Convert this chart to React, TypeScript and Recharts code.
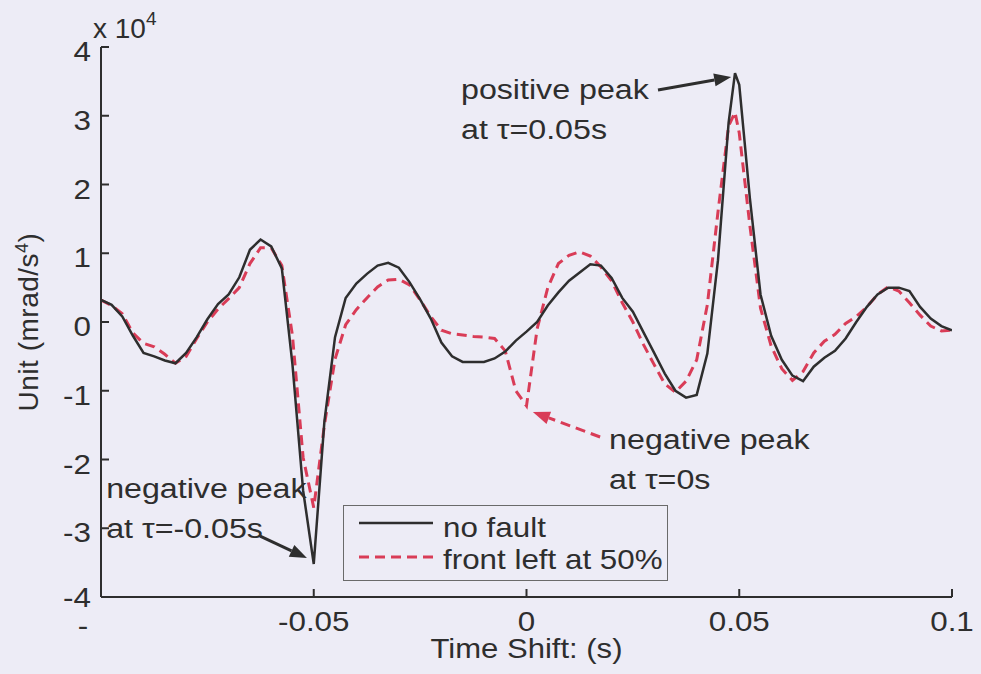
import React from "react";
import { LineChart, Line, XAxis, YAxis, ReferenceLine, Legend } from "recharts";

// time shift (s) and the two cross-correlation traces (units of 1e4 mrad/s^4)
const TIME_SHIFT = [
  -0.1, -0.0975, -0.095, -0.0925, -0.09, -0.0875, -0.085, -0.0825, -0.08, -0.0775,
  -0.075, -0.0725, -0.07, -0.0675, -0.065, -0.0625, -0.06, -0.0575, -0.055, -0.0525,
  -0.05, -0.0475, -0.045, -0.0425, -0.04, -0.0375, -0.035, -0.0325, -0.03, -0.0275,
  -0.025, -0.0225, -0.02, -0.0175, -0.015, -0.0125, -0.01, -0.0075, -0.005, -0.0025,
  0, 0.0025, 0.005, 0.0075, 0.01, 0.0125, 0.015, 0.0175, 0.02, 0.0225,
  0.025, 0.0275, 0.03, 0.0325, 0.035, 0.0375, 0.04, 0.0425, 0.045, 0.0475,
  0.049, 0.05, 0.0525, 0.055, 0.0575, 0.06, 0.0625, 0.065, 0.0675, 0.07,
  0.0725, 0.075, 0.0775, 0.08, 0.0825, 0.085, 0.0875, 0.09, 0.0925, 0.095,
  0.0975, 0.1,
];

const NO_FAULT = [
  0.32, 0.25, 0.08, -0.2, -0.45, -0.5, -0.56, -0.6, -0.45, -0.22,
  0.04, 0.26, 0.4, 0.65, 1.05, 1.2, 1.1, 0.78, -0.62, -2.45,
  -3.52, -1.45, -0.22, 0.35, 0.56, 0.7, 0.82, 0.86, 0.79, 0.58,
  0.33, 0.05, -0.3, -0.5, -0.58, -0.58, -0.58, -0.53, -0.43, -0.27,
  -0.14, 0.0, 0.24, 0.43, 0.6, 0.72, 0.84, 0.82, 0.64, 0.35,
  0.15, -0.15, -0.45, -0.75, -1.0, -1.1, -1.06, -0.46, 0.9, 2.9,
  3.62, 3.45, 1.8, 0.4, -0.2, -0.55, -0.78, -0.86, -0.65, -0.52,
  -0.42, -0.24, 0.0, 0.22, 0.4, 0.5, 0.5, 0.45, 0.22, 0.05,
  -0.06, -0.12,
];

const FRONT_LEFT_50 = [
  0.32, 0.24, 0.12, -0.16, -0.31, -0.36, -0.47, -0.6, -0.5, -0.24,
  0.0, 0.19, 0.34, 0.5, 0.85, 1.08, 1.08, 0.82, -0.2, -1.97,
  -2.7, -1.5, -0.54, -0.04, 0.18, 0.35, 0.51, 0.61, 0.62, 0.54,
  0.32, 0.08, -0.12, -0.17, -0.19, -0.21, -0.22, -0.24, -0.42, -1.0,
  -1.22, -0.1, 0.5, 0.85, 0.97, 1.02, 0.96, 0.8, 0.6, 0.28,
  0.0, -0.33, -0.62, -0.9, -1.02, -0.86, -0.55, 0.25, 1.6, 2.85,
  3.05, 2.75, 1.4, 0.2, -0.35, -0.68, -0.85, -0.72, -0.45, -0.28,
  -0.18, -0.02, 0.08, 0.22, 0.4, 0.51, 0.45, 0.28, 0.1, -0.06,
  -0.13, -0.12,
];

const X_TICKS = [-0.1, -0.05, 0, 0.05, 0.1];
const X_TICK_LABELS = ["-", "-0.05", "0", "0.05", "0.1"];
const Y_TICKS = [-4, -3, -2, -1, 0, 1, 2, 3, 4];
const Y_TICK_LABELS = ["-4", "-3", "-2", "-1", "0", "1", "2", "3", "4"];

const SERIES_NAMES = ["no fault", "front left at 50%"];

// annotation arrows: [tail, tip] in data units
const POS_PEAK_ARROW = [{ x: 0.0309, y: 3.375 }, { x: 0.0481, y: 3.564 }];
const NEG_PEAK_LEFT_ARROW = [{ x: -0.0626, y: -3.113 }, { x: -0.0516, y: -3.433 }];
const NEG_PEAK_ZERO_ARROW = [{ x: 0.0173, y: -1.673 }, { x: 0.0015, y: -1.309 }];

const FONT = '"Liberation Sans", Arial, Helvetica, sans-serif';
const INK = "#2e2e2e";
const BG = "#edecf6";
const RED = "#d93c57";

const data = TIME_SHIFT.map((t, i) => ({
  t,
  noFault: NO_FAULT[i],
  frontLeft: FRONT_LEFT_50[i],
}));

// text that is a little wider than the font's normal glyphs
function Txt({ x, y, sx = 1.12, size = 28, anchor = "start", children }: any) {
  return (
    <text
      transform={`translate(${x} ${y}) scale(${sx} 1)`}
      x={0}
      y={0}
      textAnchor={anchor}
      fontSize={size}
      fontFamily={FONT}
      fill={INK}
    >
      {children}
    </text>
  );
}

function BottomTick({ x, y, payload }: any) {
  const idx = X_TICKS.indexOf(payload.value);
  const label = X_TICK_LABELS[idx];
  const isCut = label === "-";
  return (
    <g>
      <line x1={x} y1={y} x2={x} y2={y - 8} stroke={INK} strokeWidth={2} />
      <Txt x={isCut ? x - 18 : x} y={isCut ? y + 38 : y + 34} anchor="middle">
        {label}
      </Txt>
    </g>
  );
}

function LeftTick({ x, y, payload }: any) {
  const idx = Y_TICKS.indexOf(payload.value);
  const dy = payload.value === -4 ? 10 : 14;
  return (
    <g>
      <line x1={x} y1={y} x2={x + 8} y2={y} stroke={INK} strokeWidth={2} />
      <Txt x={x - 10} y={y + dy} anchor="end">
        {Y_TICK_LABELS[idx]}
      </Txt>
    </g>
  );
}

function TopTick({ x, y }: any) {
  return <line x1={x} y1={y} x2={x} y2={y + 8} stroke={INK} strokeWidth={2} />;
}

function RightTick({ x, y }: any) {
  return <line x1={x} y1={y} x2={x - 8} y2={y} stroke={INK} strokeWidth={2} />;
}

function YTitle({ viewBox }: any) {
  const cy = viewBox ? viewBox.y + viewBox.height / 2 : 322;
  return (
    <g fontFamily={FONT} fill={INK}>
      <text
        x={38}
        y={cy}
        transform={`rotate(-90 38 ${cy})`}
        textAnchor="middle"
        fontSize={28}
        letterSpacing={0.5}
      >
        Unit (mrad/s
        <tspan dy={-10} fontSize={18}>4</tspan>
        <tspan dy={10}>)</tspan>
      </text>
      <text x={93} y={38} fontSize={28}>
        x 10
        <tspan dy={-13} fontSize={19}>4</tspan>
      </text>
    </g>
  );
}

function XTitle({ viewBox }: any) {
  const cx = viewBox ? viewBox.x + viewBox.width / 2 : 526;
  const y = viewBox ? viewBox.y + 61 : 658;
  return (
    <Txt x={cx} y={y} anchor="middle" sx={1.15} size={27}>
      Time Shift: (s)
    </Txt>
  );
}

// arrow with a filled head plus a two-line note placed relative to the tail
function arrowShape(lines: string[], dx: number, dy: number, color: string, dashed: boolean) {
  return (p: any) => {
    const { x1, y1, x2, y2 } = p;
    const a = Math.atan2(y2 - y1, x2 - x1);
    const len = 17;
    const half = 6.5;
    const bx = x2 - len * Math.cos(a);
    const by = y2 - len * Math.sin(a);
    const nx = -Math.sin(a) * half;
    const ny = Math.cos(a) * half;
    return (
      <g>
        <line
          x1={x1}
          y1={y1}
          x2={bx}
          y2={by}
          stroke={color}
          strokeWidth={3}
          strokeDasharray={dashed ? "10 6" : undefined}
        />
        <polygon points={`${x2},${y2} ${bx + nx},${by + ny} ${bx - nx},${by - ny}`} fill={color} />
        {lines.map((t, i) => (
          <Txt key={i} x={x1 + dx} y={y1 + dy + i * 40} sx={1.15}>
            {t}
          </Txt>
        ))}
      </g>
    );
  };
}

function LegendBox() {
  return (
    <svg width={326} height={77} style={{ display: "block" }}>
      <rect x={0.5} y={0.5} width={324} height={75} fill="none" stroke="#6a6a6a" strokeWidth={1} />
      <line x1={16} y1={18} x2={90} y2={18} stroke={INK} strokeWidth={2.5} />
      <Txt x={100} y={32} sx={1.12}>{SERIES_NAMES[0]}</Txt>
      <line x1={16} y1={52} x2={90} y2={52} stroke={RED} strokeWidth={3} strokeDasharray="10 6" />
      <Txt x={100} y={64} sx={1.12}>{SERIES_NAMES[1]}</Txt>
    </svg>
  );
}

export default function App() {
  const axisLine = { stroke: INK, strokeWidth: 2 };
  return (
    <div
      style={{
        position: "absolute",
        left: 0,
        top: 0,
        width: 981,
        height: 674,
        background: BG,
        overflow: "hidden",
      }}
    >
      <LineChart width={981} height={674} data={data} margin={{ top: 47, right: 29, left: 0, bottom: 0 }}>
        <XAxis
          dataKey="t"
          type="number"
          domain={[-0.1, 0.1]}
          ticks={X_TICKS}
          allowDataOverflow
          height={77}
          axisLine={axisLine}
          tickLine={false}
          tickSize={0}
          tickMargin={0}
          tick={<BottomTick />}
          interval={0}
          label={<XTitle />}
        />
        <XAxis
          xAxisId="top"
          orientation="top"
          dataKey="t"
          type="number"
          domain={[-0.1, 0.1]}
          ticks={X_TICKS}
          allowDataOverflow
          height={0}
          axisLine={axisLine}
          tickLine={false}
          tickSize={0}
          tickMargin={0}
          tick={<TopTick />}
          interval={0}
        />
        <YAxis
          type="number"
          domain={[-4, 4]}
          ticks={Y_TICKS}
          allowDataOverflow
          width={101}
          axisLine={axisLine}
          tickLine={false}
          tickSize={0}
          tickMargin={0}
          tick={<LeftTick />}
          interval={0}
          label={<YTitle />}
        />
        <YAxis
          yAxisId="right"
          orientation="right"
          type="number"
          domain={[-4, 4]}
          ticks={Y_TICKS}
          allowDataOverflow
          width={0}
          axisLine={axisLine}
          tickLine={false}
          tickSize={0}
          tickMargin={0}
          tick={<RightTick />}
          interval={0}
        />
        <Line
          type="linear"
          dataKey="frontLeft"
          name={SERIES_NAMES[1]}
          stroke={RED}
          strokeWidth={3}
          strokeDasharray="10 6"
          dot={false}
          activeDot={false}
          isAnimationActive={false}
        />
        <Line
          type="linear"
          dataKey="noFault"
          name={SERIES_NAMES[0]}
          stroke={INK}
          strokeWidth={2.5}
          dot={false}
          activeDot={false}
          isAnimationActive={false}
        />
        <ReferenceLine
          segment={POS_PEAK_ARROW}
          shape={arrowShape(["positive peak", "at τ=0.05s"], -197, 9, INK, false)}
        />
        <ReferenceLine
          segment={NEG_PEAK_LEFT_ARROW}
          shape={arrowShape(["negative peak", "at τ=-0.05s"], -154, -38, INK, false)}
        />
        <ReferenceLine
          segment={NEG_PEAK_ZERO_ARROW}
          shape={arrowShape(["negative peak", "at τ=0s"], 9, 12, RED, true)}
        />
        <Legend
          layout="horizontal"
          verticalAlign="middle"
          align="center"
          content={<LegendBox />}
          wrapperStyle={{ position: "absolute", left: 343, top: 505, width: 326, height: 77 }}
        />
      </LineChart>
    </div>
  );
}
